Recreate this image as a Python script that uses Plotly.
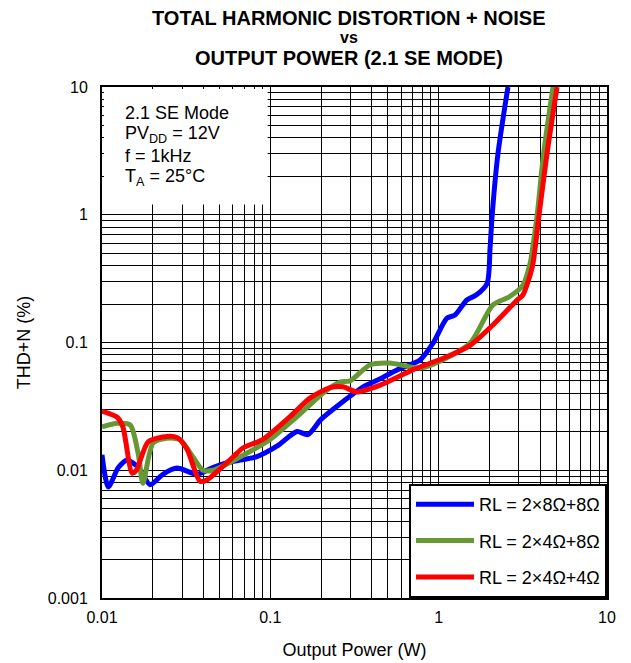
import plotly.graph_objects as go

# ---- data ----
blue_p = [0.01, 0.0109, 0.0125, 0.0141, 0.0165, 0.0193, 0.023, 0.0279, 0.0367, 0.0455, 0.0576,
          0.0833, 0.11, 0.144, 0.167, 0.2, 0.259, 0.356, 0.45, 0.566, 0.775, 0.926, 1.12, 1.25,
          1.47, 1.67, 1.94, 2.02, 2.08, 2.25, 2.58]
blue_thd = [0.0132, 0.0074, 0.0105, 0.012, 0.0105, 0.0077, 0.0093, 0.0104, 0.0093, 0.0105, 0.0116,
            0.0128, 0.0155, 0.0201, 0.019, 0.025, 0.033, 0.0449, 0.052, 0.061, 0.073, 0.099, 0.155, 0.164,
            0.215, 0.235, 0.29, 0.55, 1.0, 3.0, 10]

green_p = [0.01, 0.0123, 0.0147, 0.0164, 0.0175, 0.0201, 0.0243, 0.029, 0.0347, 0.0398, 0.0456,
           0.066, 0.0996, 0.144, 0.206, 0.259, 0.297, 0.39, 0.51, 0.78, 1.01, 1.54, 2.1, 2.63,
           3.16, 3.5, 3.65, 3.85, 4.2, 4.78]
green_thd = [0.0219, 0.0233, 0.0226, 0.0135, 0.0079, 0.0163, 0.0178, 0.0174, 0.0127, 0.01, 0.01,
             0.0127, 0.0174, 0.0263, 0.0403, 0.049, 0.05, 0.0667, 0.069, 0.063, 0.071, 0.099, 0.197, 0.228,
             0.28, 0.42, 0.6, 1.0, 3.0, 10]

red_p = [0.01, 0.0123, 0.0133, 0.0151, 0.016, 0.0188, 0.0243, 0.028, 0.032, 0.0382, 0.042,
         0.06, 0.069, 0.09, 0.131, 0.172, 0.226, 0.27, 0.327, 0.45, 0.70, 1.11, 1.54, 2.1,
         2.93, 3.16, 3.6, 3.95, 4.4, 5.05]
red_thd = [0.029, 0.026, 0.0219, 0.0095, 0.01, 0.0167, 0.0184, 0.018, 0.0146, 0.0082, 0.0084,
           0.0127, 0.015, 0.0174, 0.0263, 0.0367, 0.0443, 0.045, 0.041, 0.0464, 0.061, 0.077, 0.095, 0.137,
           0.215, 0.235, 0.39, 1.0, 3.0, 10]

series_names = ["RL = 2×8Ω+8Ω", "RL = 2×4Ω+8Ω", "RL = 2×4Ω+4Ω"]
series_colors = ["#0000FF", "#669933", "#FF0000"]

x_major = [0.01, 0.1, 1, 10]
x_major_text = ["0.01", "0.1", "1", "10"]
y_major = [0.001, 0.01, 0.1, 1, 10]
y_major_text = ["0.001", "0.01", "0.1", "1", "10"]

FONT = "Arial, Liberation Sans, sans-serif"


def log_grid(majors, texts):
    vals, labs = [], []
    for i, m in enumerate(majors):
        vals.append(m)
        labs.append(texts[i])
        if i < len(majors) - 1:
            for k in range(2, 10):
                vals.append(m * k)
                labs.append("")
    return vals, labs


xv, xt = log_grid(x_major, x_major_text)
yv, yt = log_grid(y_major, y_major_text)

fig = go.Figure()
for p, t, name, col in [(blue_p, blue_thd, series_names[0], series_colors[0]),
                        (green_p, green_thd, series_names[1], series_colors[1]),
                        (red_p, red_thd, series_names[2], series_colors[2])]:
    fig.add_trace(go.Scatter(x=p, y=t, mode="lines", name=name, legendgroup=name,
                             line=dict(color=col, width=5, shape="spline", smoothing=0.7)))

fig.update_xaxes(type="log", range=[-2, 1], tickvals=xv, ticktext=xt, showgrid=True,
                 gridcolor="black", gridwidth=1, showline=True, linecolor="black", linewidth=2,
                 mirror=True, ticks="", zeroline=False, ticklabelstandoff=4,
                 tickfont=dict(family=FONT, size=16, color="black"),
                 title=dict(text="Output Power (W)", font=dict(family=FONT, size=18, color="black"),
                            standoff=18))
fig.update_yaxes(type="log", range=[-3, 1], tickvals=yv, ticktext=yt, showgrid=True,
                 gridcolor="black", gridwidth=1, showline=True, linecolor="black", linewidth=2,
                 mirror=True, ticks="", zeroline=False, ticklabelstandoff=9,
                 tickfont=dict(family=FONT, size=16, color="black"),
                 title=dict(text="THD+N (%)", font=dict(family=FONT, size=18, color="black"),
                            standoff=12))

# white info box (covers grid, no data there)
fig.add_shape(type="rect", xref="paper", yref="paper", x0=0.004, x1=0.328, y0=0.77, y1=0.996,
              fillcolor="white", line=dict(width=0), layer="above")
info = ["2.1 SE Mode", "PV<sub>DD</sub> = 12V", "f = 1kHz", "T<sub>A</sub> = 25°C"]
for i, s in enumerate(info):
    fig.add_annotation(xref="paper", yref="paper", x=0.042, y=1 - (26 + i * 21.5) / 511, text=s,
                       showarrow=False, xanchor="left", yanchor="middle",
                       font=dict(family=FONT, size=18, color="black"))

# title
fig.add_annotation(xref="paper", yref="paper", x=0.49, y=1 + 69 / 511, text="<b>TOTAL HARMONIC DISTORTION + NOISE</b>",
                   showarrow=False, xanchor="center", yanchor="middle",
                   font=dict(family=FONT, size=20, color="black"))
fig.add_annotation(xref="paper", yref="paper", x=0.49, y=1 + 50 / 511, text="<b>vs</b>",
                   showarrow=False, xanchor="center", yanchor="middle",
                   font=dict(family=FONT, size=16, color="black"))
fig.add_annotation(xref="paper", yref="paper", x=0.49, y=1 + 29 / 511, text="<b>OUTPUT POWER (2.1 SE MODE)</b>",
                   showarrow=False, xanchor="center", yanchor="middle",
                   font=dict(family=FONT, size=20, color="black"))

fig.update_layout(
    width=631, height=663,
    margin=dict(l=94, r=32, t=79, b=73),
    paper_bgcolor="white", plot_bgcolor="white",
    showlegend=True,
    legend=dict(x=1, y=0, xanchor="right", yanchor="bottom", bgcolor="white",
                bordercolor="black", borderwidth=2, tracegroupgap=10, itemwidth=58,
                font=dict(family=FONT, size=18, color="black")),
    font=dict(family=FONT, color="black"),
)

fig.write_html("out.html")
